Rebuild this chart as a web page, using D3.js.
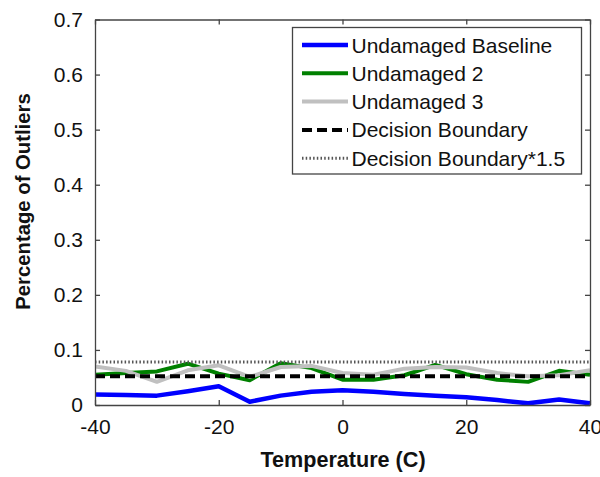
<!DOCTYPE html>
<html>
<head>
<meta charset="utf-8">
<script src="https://cdn.jsdelivr.net/npm/d3@7"></script>
<style>
html,body{margin:0;padding:0;background:#fff;}
svg{display:block;font-family:"Liberation Sans",Arial,sans-serif;}
</style>
</head>
<body>
<svg id="chart" width="600" height="477"></svg>
<script>
const temps = [-40,-35,-30,-25,-20,-15,-10,-5,0,5,10,15,20,25,30,35,40];
const baseline = [0.019,0.018,0.017,0.025,0.034,0.006,0.017,0.024,0.027,0.024,0.020,0.017,0.014,0.009,0.003,0.010,0.003];
const undamaged2 = [0.055,0.058,0.061,0.075,0.057,0.045,0.076,0.067,0.046,0.046,0.054,0.073,0.056,0.046,0.042,0.062,0.055];
const undamaged3 = [0.070,0.062,0.042,0.063,0.072,0.051,0.069,0.071,0.058,0.055,0.066,0.069,0.068,0.058,0.052,0.054,0.063];
const decisionBoundary = 0.052;
const decisionBoundary15 = 0.078;
const xTicks = [-40,-20,0,20,40];
const yTicks = [0,0.1,0.2,0.3,0.4,0.5,0.6,0.7];
const legendLabels = ["Undamaged Baseline","Undamaged 2","Undamaged 3","Decision Boundary","Decision Boundary*1.5"];

const svg = d3.select("#chart");
const L = 95, R = 590, T = 19.5, B = 405;
const x = d3.scaleLinear().domain([-40,40]).range([L,R]);
const y = d3.scaleLinear().domain([0,0.7]).range([B,T]);
const axisColor = "#444";
const fs = 21;

svg.append("defs").append("clipPath").attr("id","clip")
  .append("rect").attr("x",L).attr("y",T).attr("width",R-L).attr("height",B-T);

const styles = [
  {color:"#0000ff", width:4.5, dash:null},
  {color:"#008000", width:4, dash:null},
  {color:"#c0c0c0", width:4, dash:null},
  {color:"#000000", width:4, dash:"10,5"},
  {color:"#555555", width:3, dash:"1.5,2.2"}
];

const series = [baseline, undamaged2, undamaged3];
const line = d3.line().x((d,i)=>x(temps[i])).y(d=>y(d));
const plot = svg.append("g").attr("clip-path","url(#clip)");
series.forEach((s,k)=>{
  plot.append("path").datum(s).attr("d",line)
    .attr("fill","none").attr("stroke",styles[k].color)
    .attr("stroke-width",styles[k].width).attr("stroke-linejoin","round");
});
[decisionBoundary, decisionBoundary15].forEach((v,k)=>{
  const st = styles[3+k];
  plot.append("line").attr("x1",x(-40)).attr("x2",x(40))
    .attr("y1",y(v)).attr("y2",y(v))
    .attr("stroke",st.color).attr("stroke-width",st.width)
    .attr("stroke-dasharray",st.dash);
});

const tickLen = 5;
const xAxisB = d3.axisBottom(x).tickValues(xTicks).tickSizeInner(-tickLen).tickSizeOuter(0).tickPadding(14).tickFormat(d=>String(d));
const xAxisT = d3.axisTop(x).tickValues(xTicks).tickSizeInner(-tickLen).tickSizeOuter(0).tickFormat("");
const yAxisL = d3.axisLeft(y).tickValues(yTicks).tickSizeInner(-tickLen).tickSizeOuter(0).tickPadding(12).tickFormat(d=>d===0?"0":d3.format(".1f")(d));
const yAxisR = d3.axisRight(y).tickValues(yTicks).tickSizeInner(-tickLen).tickSizeOuter(0).tickFormat("");

function styleAxis(g){
  g.selectAll("path").attr("stroke",axisColor).attr("stroke-width",1.3);
  g.selectAll("line").attr("stroke",axisColor).attr("stroke-width",1.3);
  g.selectAll("text").attr("fill","#111").style("font-size",fs+"px").style("font-family","'Liberation Sans',Arial,sans-serif");
}
svg.append("g").attr("transform",`translate(0,${B})`).call(xAxisB).call(styleAxis);
svg.append("g").attr("transform",`translate(0,${T})`).call(xAxisT).call(styleAxis);
svg.append("g").attr("transform",`translate(${L},0)`).call(yAxisL).call(styleAxis);
svg.append("g").attr("transform",`translate(${R},0)`).call(yAxisR).call(styleAxis);

svg.append("text").attr("x",343).attr("y",467).attr("text-anchor","middle")
  .style("font-size","21.6px").style("font-weight","bold").attr("fill","#111")
  .text("Temperature (C)");
svg.append("text").attr("transform",`translate(29.5,201.5) rotate(-90)`).attr("text-anchor","middle")
  .style("font-size","20.3px").style("font-weight","bold").attr("fill","#111")
  .text("Percentage of Outliers");

const lg = svg.append("g");
lg.append("rect").attr("x",292.5).attr("y",27.5).attr("width",289).attr("height",146.5)
  .attr("fill","#fff").attr("stroke",axisColor).attr("stroke-width",1.3);
legendLabels.forEach((lab,i)=>{
  const cy = 45 + i*28.3;
  const st = styles[i];
  lg.append("line").attr("x1",302).attr("x2",348).attr("y1",cy).attr("y2",cy)
    .attr("stroke",st.color).attr("stroke-width",st.width).attr("stroke-dasharray",st.dash);
  lg.append("text").attr("x",351.5).attr("y",cy).attr("dy","0.36em")
    .style("font-size",fs+"px").attr("fill","#111").text(lab);
});
</script>
</body>
</html>
